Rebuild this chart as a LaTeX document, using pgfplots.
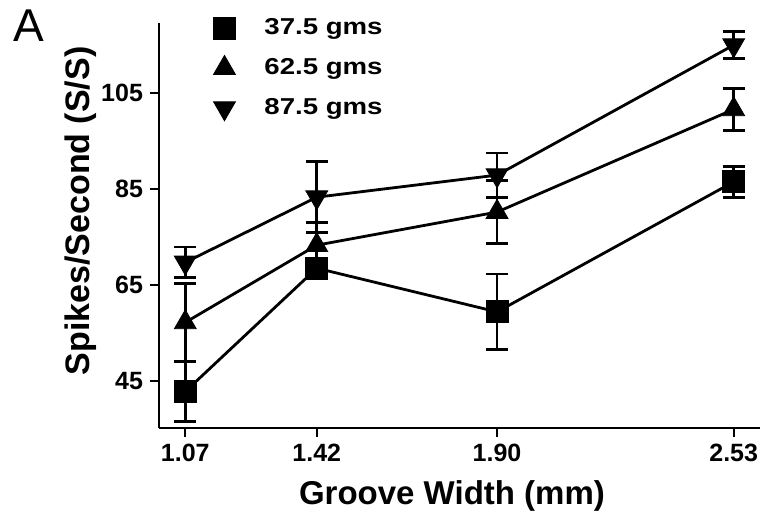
\documentclass[border=0pt]{standalone}
\usepackage{pgfplots}
\pgfplotsset{compat=1.18}
\usepackage{fontspec}
\setmainfont{Liberation Sans}
\newfontfamily\legfont{Liberation Sans}[FakeStretch=1.2]

% x, mean, sem
\pgfplotstableread{
x    y     e
1.07 42.8  6.3
1.42 68.5  1.5
1.90 59.4  7.9
2.53 86.5  3.2
}\lowforce
\pgfplotstableread{
x    y     e
1.07 57.2  8.1
1.42 73.3  4.8
1.90 80.2  6.5
2.53 101.6 4.4
}\midforce
\pgfplotstableread{
x    y     e
1.07 69.7  3.2
1.42 83.3  7.4
1.90 87.9  4.6
2.53 115.0 2.8
}\highforce

\begin{document}
\begin{tikzpicture}
\begin{axis}[
    scale only axis,
    width=300.5pt, height=202.5pt,
    xmin=1.0, xmax=2.60,
    ymin=35.2, ymax=119.6,
    clip=false,
    axis lines=left,
    axis line style={-, line width=1.4pt},
    tick align=outside,
    major tick length=4.5pt,
    tick style={line width=1.2pt, black},
    xtick={1.07,1.42,1.90,2.53},
    xticklabels={1.07,1.42,1.90,2.53},
    ytick={45,65,85,105},
    yticklabels={45,65,85,105},
    ticklabel style={font=\fontsize{12.5}{14}\selectfont\bfseries},
    xlabel={Groove Width (mm)},
    ylabel={Spikes/Second (S/S)},
    xlabel style={font=\fontsize{16.5}{18}\selectfont\bfseries,
        at={(axis description cs:0.4875,-0.168)}, anchor=center},
    ylabel style={font=\fontsize{17}{19}\selectfont\bfseries,
        at={(axis description cs:-0.13,0.536)}, anchor=center},
    legend style={draw=none, fill=none, at={(axis description cs:0.09,1.022)},
        anchor=north west, inner sep=0pt, column sep=12.5pt, row sep=6.5pt,
        font=\fontsize{11.5}{13}\legfont\bfseries},
    legend cell align=left,
    legend image code/.code={\draw[only marks,#1] plot coordinates {(0pt,0pt)};},
]
\coordinate (O) at (rel axis cs:0,0);
\addplot[black, line width=1.4pt, mark=square*, mark size=5.5pt,
    mark options={solid, fill=black, line width=0.4pt},
    error bars/.cd, y dir=both, y explicit,
    error bar style={line width=1.4pt},
    error mark options={rotate=90, mark size=5.5pt, line width=1.4pt}]
    table[x=x, y=y, y error=e] {\lowforce};
\addlegendentry{37.5 gms}
\addplot[black, line width=1.4pt, mark=triangle*, mark size=6.3pt,
    mark options={solid, fill=black, line width=0.4pt},
    error bars/.cd, y dir=both, y explicit,
    error bar style={line width=1.4pt},
    error mark options={rotate=90, mark size=5.5pt, line width=1.4pt}]
    table[x=x, y=y, y error=e] {\midforce};
\addlegendentry{62.5 gms}
\addplot[black, line width=1.4pt, mark=triangle*, mark size=6.3pt,
    mark options={solid, fill=black, line width=0.4pt, rotate=180},
    error bars/.cd, y dir=both, y explicit,
    error bar style={line width=1.4pt},
    error mark options={rotate=90, mark size=5.5pt, line width=1.4pt}]
    table[x=x, y=y, y error=e] {\highforce};
\addlegendentry{87.5 gms}
\end{axis}
\node[font=\fontsize{23}{23}\selectfont] at ([shift={(-65pt,201pt)}]O) {A};
\pgfresetboundingbox
\path ([shift={(-79.5pt,-45.5pt)}]O) rectangle ([shift={(304pt,214pt)}]O);
\end{tikzpicture}
\end{document}
